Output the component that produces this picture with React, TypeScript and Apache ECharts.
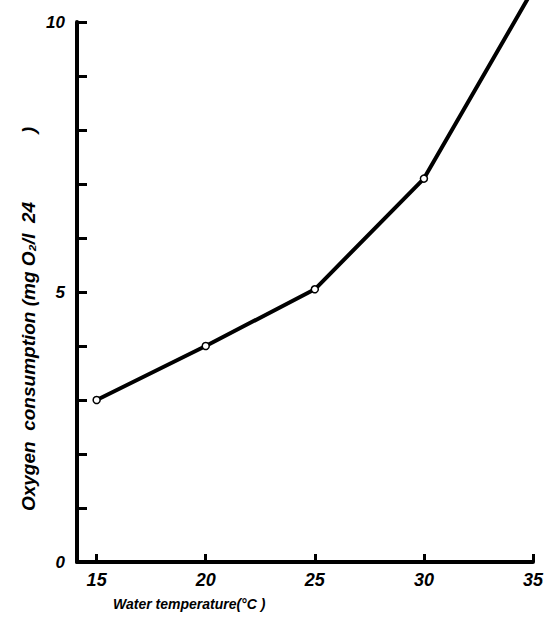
import React, { useEffect, useRef } from "react";
import * as echarts from "echarts";

const temperatures = [15, 20, 25, 30, 35];
const consumption = [3.0, 4.0, 5.05, 7.1, 10.6];
const xTickValues = [15, 20, 25, 30, 35];
const yLabelValues = [0, 5, 10];
const xTitle = "Water temperature(°C )";
const yTitle = "Oxygen  consumption (mg O₂/l  24             )";

export default function App() {
  const ref = useRef<HTMLDivElement>(null);
  useEffect(() => {
    if (!ref.current) return;
    const chart = echarts.init(ref.current, null, { renderer: "svg" });
    const font = "'Liberation Sans', Arial, sans-serif";
    chart.setOption({
      animation: false,
      backgroundColor: "#fff",
      grid: { left: 77, right: 20, top: 22, bottom: 70, containLabel: false },
      xAxis: {
        type: "value",
        min: 14.1,
        max: 35,
        axisLine: { show: true, lineStyle: { color: "#000", width: 4 } },
        axisTick: {
          show: true,
          inside: true,
          length: 8,
          customValues: xTickValues,
          lineStyle: { color: "#000", width: 3 },
        },
        axisLabel: {
          customValues: xTickValues,
          color: "#000",
          fontSize: 18,
          fontStyle: "italic",
          fontWeight: "bold",
          fontFamily: font,
          margin: 9,
        },
        splitLine: { show: false },
      },
      yAxis: {
        type: "value",
        min: 0,
        max: 10,
        interval: 1,
        axisLine: { show: true, lineStyle: { color: "#000", width: 4 } },
        axisTick: {
          show: true,
          inside: true,
          length: 10,
          lineStyle: { color: "#000", width: 3 },
        },
        axisLabel: {
          color: "#000",
          fontSize: 17,
          fontStyle: "italic",
          fontWeight: "bold",
          fontFamily: font,
          margin: 12,
          formatter: (v: number) => (yLabelValues.includes(v) ? String(v) : ""),
        },
        splitLine: { show: false },
      },
      graphic: [
        {
          type: "text",
          left: 113,
          top: 597,
          style: {
            text: xTitle,
            fill: "#000",
            font: `italic bold 14px ${font}`,
          },
        },
        {
          type: "text",
          x: 28,
          y: 319,
          rotation: Math.PI / 2,
          style: {
            text: yTitle,
            fill: "#000",
            font: `italic bold 19px ${font}`,
            align: "center",
            verticalAlign: "middle",
          },
        },
      ],
      series: [
        {
          type: "line",
          clip: false,
          data: temperatures.map((t, i) => ({
            value: [t, consumption[i]],
            symbol: i === temperatures.length - 1 ? "none" : "circle",
          })),
          symbolSize: 7,
          itemStyle: { color: "#fff", borderColor: "#000", borderWidth: 1.5 },
          lineStyle: { color: "#000", width: 4 },
        },
      ],
    });
    return () => chart.dispose();
  }, []);
  return (
    <div
      ref={ref}
      style={{ position: "fixed", left: 0, top: 0, width: 553, height: 632 }}
    />
  );
}
